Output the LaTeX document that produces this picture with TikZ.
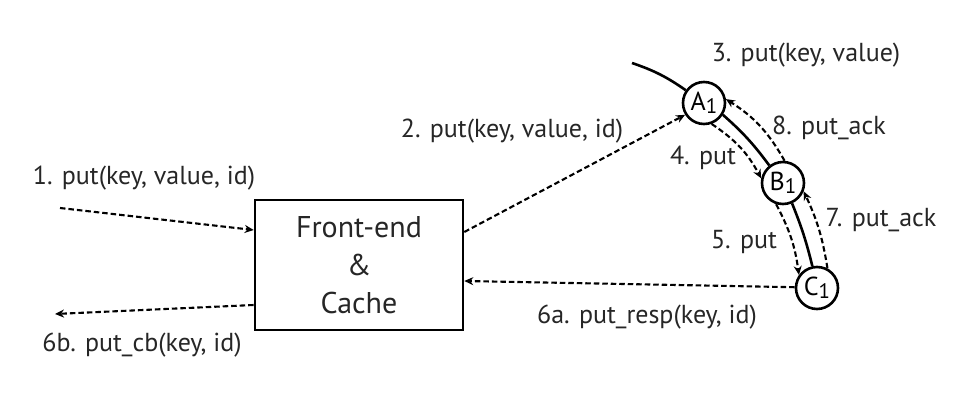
\documentclass[tikz,border=0pt]{standalone}
\usepackage{fontspec}
\setmainfont{PT Sans}
\usepackage{tikz}
\usetikzlibrary{arrows.meta}
\newcommand{\sub}[1]{\raisebox{-3pt}{\fontsize{21}{22}\selectfont #1}}

\begin{document}
\begin{tikzpicture}[x=1pt,y=1pt]
    \tikzstyle{every node}+=[inner sep=0pt, text=black!85]
    \tikzstyle{msg}=[draw, black, line width=2.1pt, dash pattern=on 5.5pt off 3pt, -{Stealth[length=9pt,width=8pt]}]
    \tikzstyle{ring}=[draw, black, line width=2.6pt]
    \tikzstyle{vnode}=[circle, draw, black, line width=2.6pt, minimum size=42pt, font=\fontsize{26}{28}\selectfont]
    \tikzstyle{lbl}=[font=\fontsize{26}{28}\selectfont]
    \useasboundingbox (0,0) rectangle (970,404);
    \node [draw, line width=2.6pt, minimum width=208pt, minimum height=130pt, align=center, font=\fontsize{30}{38}\selectfont] (fe) at (359,139) {Front-end\\\&\\Cache};
    \node [vnode] (a1) at (704,301) {A\sub{1}};
    \node [vnode] (b1) at (783,221) {B\sub{1}};
    \node [vnode] (c1) at (817,116) {C\sub{1}};
    \coordinate (rs) at (632,341);
    \coordinate (cin) at (60,196);
    \coordinate (cout) at (55,90);
    \draw [ring] (rs) to [bend left=8] (a1.145);
    \draw [ring] (a1.-32) to [bend left=6] (b1.128);
    \draw [ring] (b1.-66) to [bend left=4] (c1.102);
    \draw [msg] (cin) -- ([yshift=35pt]fe.west);
    \draw [msg] ([yshift=-40pt]fe.west) -- (cout);
    \draw [msg] ([yshift=33pt]fe.east) -- (a1.212);
    \draw [msg] (c1.178) -- ([yshift=-16pt]fe.east);
    \draw [msg] (a1.-70) to [bend left=14] (b1.168);
    \draw [msg] (b1.86) to [bend right=14] (a1.10);
    \draw [msg] (b1.-108) to [bend left=10] (c1.144);
    \draw [msg] (c1.62) to [bend right=8] (b1.-22);
    \node [lbl] (l1) at (144,226) {1. put(key, value, id)};
    \node [lbl] (l6b) at (142,59) {6b. put\_cb(key, id)};
    \node [lbl] (l2) at (512,273) {2. put(key, value, id)};
    \node [lbl] (l6a) at (647,87) {6a. put\_resp(key, id)};
    \node [lbl] (l3) at (806,349) {3. put(key, value)};
    \node [lbl] (l8) at (829,276) {8. put\_ack};
    \node [lbl] (l4) at (703,246) {4. put};
    \node [lbl] (l7) at (881,184) {7. put\_ack};
    \node [lbl] (l5) at (744,162) {5. put};
\end{tikzpicture}
\end{document}
